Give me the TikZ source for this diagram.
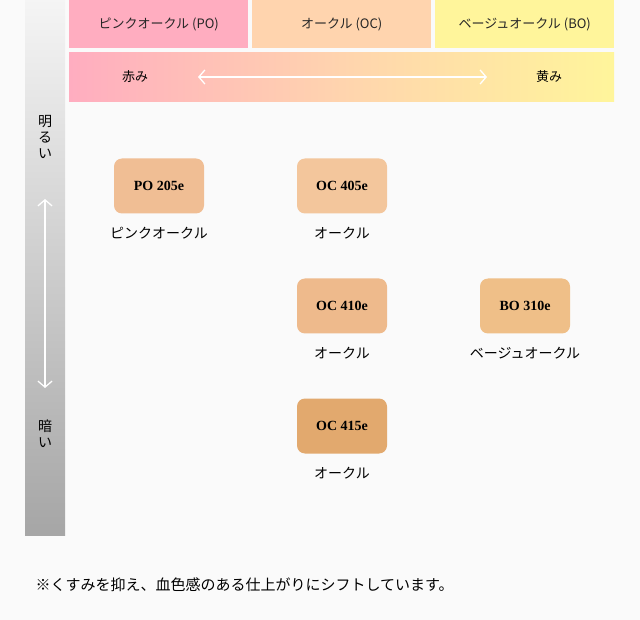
\documentclass[tikz,border=0pt]{standalone}
\usepackage{fontspec}
\setmainfont{Liberation Serif}
\newfontfamily\cjk{Noto Sans CJK JP}
\usetikzlibrary{arrows.meta}
\definecolor{bg}{HTML}{FAFAFA}
\definecolor{pink}{HTML}{FFADC0}
\definecolor{peach}{HTML}{FFD4AE}
\definecolor{yel}{HTML}{FFF59B}
\definecolor{cA}{HTML}{F0BE94}
\definecolor{cB}{HTML}{F3C69C}
\definecolor{cC}{HTML}{EEBA8C}
\definecolor{cD}{HTML}{EFBF88}
\definecolor{cE}{HTML}{E2A96E}
\tikzset{
 hdr/.style={anchor=north west,minimum width=179pt,minimum height=48pt,inner sep=0pt,font=\cjk\fontsize{13}{15}\selectfont,text=black!85},
 prod/.style={rounded corners=8pt,minimum width=90pt,minimum height=55pt,inner sep=0pt,font=\bfseries\fontsize{14}{16}\selectfont},
 lab/.style={font=\cjk\fontsize{14}{16}\selectfont},
}
\begin{document}
\begin{tikzpicture}[x=1pt,y=-1pt]
\fill[bg] (0,0) rectangle (640,620);
\useasboundingbox (0,0) rectangle (640,620);
\shade[top color=black!4,bottom color=black!35] (25,0) rectangle (65,535);
\node[hdr,fill=pink] (po) at (69,0) {ピンクオークル (PO)};
\node[hdr,fill=peach] (oc) at (252,0) {オークル (OC)};
\node[hdr,fill=yel] (bo) at (435,0) {ベージュオークル (BO)};
\shade[left color=pink,right color=peach] (69,53) rectangle (342,102);
\shade[left color=peach,right color=yel] (341.5,53) rectangle (614,102);
\node[lab,font=\cjk\fontsize{13}{15}\selectfont] (red) at (135,77) {赤み};
\node[lab,font=\cjk\fontsize{13}{15}\selectfont] (yl) at (549,77) {黄み};
\coordinate (ha) at (198,77); \coordinate (hb) at (487,77);
\draw[white,line width=1.3pt,{Straight Barb[length=6pt,width=14pt]}-{Straight Barb[length=6pt,width=14pt]}] (ha) -- (hb);
\node[lab,font=\cjk\fontsize{14}{16}\selectfont,align=center,inner sep=0pt] (bright) at (45,137) {明\\る\\い};
\node[lab,font=\cjk\fontsize{14}{16}\selectfont,align=center,inner sep=0pt] (dark) at (45,434) {暗\\い};
\coordinate (va) at (45,199); \coordinate (vb) at (45,388);
\draw[white,line width=1.3pt,{Straight Barb[length=6pt,width=14pt]}-{Straight Barb[length=6pt,width=14pt]}] (va) -- (vb);
\node[prod,fill=cA] (p1) at (159,186) {PO 205e};
\node[prod,fill=cB] (p2) at (342,186) {OC 405e};
\node[prod,fill=cC] (p3) at (342,306) {OC 410e};
\node[prod,fill=cD] (p4) at (525,306) {BO 310e};
\node[prod,fill=cE] (p5) at (342,426) {OC 415e};
\node[lab] (l1) at (159,233) {ピンクオークル};
\node[lab] (l2) at (342,233) {オークル};
\node[lab] (l3) at (342,353) {オークル};
\node[lab] (l4) at (525,353) {ベージュオークル};
\node[lab] (l5) at (342,473) {オークル};
\node[lab,anchor=west,font=\cjk\fontsize{15}{17}\selectfont] (note) at (32,585) {※くすみを抑え、血色感のある仕上がりにシフトしています。};
\end{tikzpicture}
\end{document}
